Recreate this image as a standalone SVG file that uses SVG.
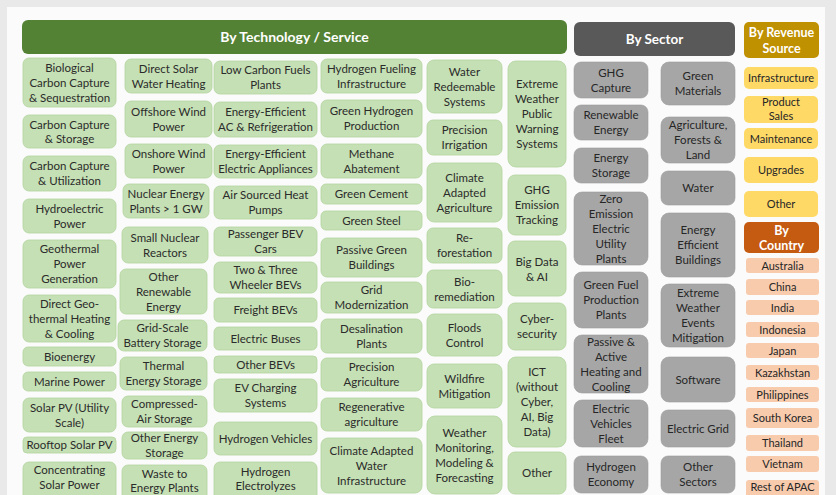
<svg xmlns="http://www.w3.org/2000/svg" width="836" height="495" viewBox="0 0 836 495">
<style>
.g{fill:#c5e0b4;stroke:#b3d49e;stroke-width:0.8}
.s{fill:#a6a6a6;stroke:#9c9c9c;stroke-width:0.6}
.y{fill:#ffd966}
.c{fill:#f8cbad}
text{font-family:Lato,"Liberation Sans",sans-serif;text-anchor:middle}
.t{font-size:11.5px;fill:#2b2b2b}
.st{font-size:11.5px;fill:#262626}
.r{font-size:11px;fill:#262626}
.h{font-weight:bold;fill:#ffffff}
</style>
<rect width="836" height="495" fill="#e9e9e9"/>
<rect x="7" y="7" width="818" height="495" fill="#fbfbfb"/>

<g id="hdr-tech"><rect x="22" y="20" width="545" height="34" rx="6" fill="#548235"/><text class="h" x="294.5" y="42" font-size="14">By Technology / Service</text></g>
<g id="hdr-sector"><rect x="574" y="22" width="161" height="34" rx="6" fill="#595959"/><text class="h" x="654.5" y="44" font-size="13.5">By Sector</text></g>
<g id="hdr-revenue"><rect x="744" y="22" width="75" height="36" rx="5" fill="#bf9000"/><text class="h" font-size="12.5"><tspan x="781.5" y="37">By Revenue</tspan><tspan x="781.5" y="53">Source</tspan></text></g>
<g id="hdr-country"><rect x="744" y="222" width="75" height="31" rx="5" fill="#c55a11"/><text class="h" font-size="12.5"><tspan x="781.5" y="235">By</tspan><tspan x="781.5" y="250">Country</tspan></text></g>

<!-- Column 1 -->
<g id="n-bccs"><rect class="g" x="23" y="58" width="93" height="49" rx="6"/><text class="t"><tspan x="69.5" y="72">Biological</tspan><tspan x="69.5" y="87">Carbon Capture</tspan><tspan x="69.5" y="102">&amp; Sequestration</tspan></text></g>
<g id="n-ccs"><rect class="g" x="23" y="115" width="93" height="33" rx="6"/><text class="t"><tspan x="69.5" y="128.5">Carbon Capture</tspan><tspan x="69.5" y="143">&amp; Storage</tspan></text></g>
<g id="n-ccu"><rect class="g" x="23" y="156" width="93" height="35" rx="6"/><text class="t"><tspan x="69.5" y="170">Carbon Capture</tspan><tspan x="69.5" y="185">&amp; Utilization</tspan></text></g>
<g id="n-hydro"><rect class="g" x="23" y="199" width="93" height="34" rx="6"/><text class="t"><tspan x="69.5" y="212.5">Hydroelectric</tspan><tspan x="69.5" y="227.5">Power</tspan></text></g>
<g id="n-geo"><rect class="g" x="23" y="240" width="93" height="48" rx="6"/><text class="t"><tspan x="69.5" y="253">Geothermal</tspan><tspan x="69.5" y="268">Power</tspan><tspan x="69.5" y="283">Generation</tspan></text></g>
<g id="n-dgeo"><rect class="g" x="23" y="295" width="93" height="47" rx="6"/><text class="t"><tspan x="69.5" y="307.5">Direct Geo-</tspan><tspan x="69.5" y="322.5">thermal Heating</tspan><tspan x="69.5" y="337.5">&amp; Cooling</tspan></text></g>
<g id="n-bio"><rect class="g" x="23" y="347" width="93" height="19" rx="5"/><text class="t" x="69.5" y="360.5">Bioenergy</text></g>
<g id="n-marine"><rect class="g" x="23" y="372" width="93" height="19" rx="5"/><text class="t" x="69.5" y="385.5">Marine Power</text></g>
<g id="n-pvu"><rect class="g" x="23" y="398" width="93" height="34" rx="6"/><text class="t"><tspan x="69.5" y="411.5">Solar PV (Utility</tspan><tspan x="69.5" y="426.5">Scale)</tspan></text></g>
<g id="n-roof"><rect class="g" x="23" y="437" width="93" height="16" rx="4"/><text class="t" x="69.5" y="449">Rooftop Solar PV</text></g>
<g id="n-csp"><rect class="g" x="23" y="462" width="93" height="42" rx="6"/><text class="t"><tspan x="69.5" y="474">Concentrating</tspan><tspan x="69.5" y="489">Solar Power</tspan></text></g>

<!-- Column 2 -->
<g id="n-dswh"><rect class="g" x="125" y="59" width="87" height="34" rx="6"/><text class="t"><tspan x="168.5" y="72.5">Direct Solar</tspan><tspan x="168.5" y="87.5">Water Heating</tspan></text></g>
<g id="n-offw"><rect class="g" x="125" y="101" width="87" height="36" rx="6"/><text class="t"><tspan x="168.5" y="115.5">Offshore Wind</tspan><tspan x="168.5" y="130.5">Power</tspan></text></g>
<g id="n-onw"><rect class="g" x="125" y="144" width="87" height="34" rx="6"/><text class="t"><tspan x="168.5" y="157.5">Onshore Wind</tspan><tspan x="168.5" y="172.5">Power</tspan></text></g>
<g id="n-nuc"><rect class="g" x="123" y="184" width="86" height="34" rx="6"/><text class="t"><tspan x="166" y="197.5">Nuclear Energy</tspan><tspan x="166" y="212.5">Plants &gt; 1 GW</tspan></text></g>
<g id="n-smr"><rect class="g" x="122" y="227" width="86" height="36" rx="6"/><text class="t"><tspan x="165" y="241.5">Small Nuclear</tspan><tspan x="165" y="256.5">Reactors</tspan></text></g>
<g id="n-ore"><rect class="g" x="120" y="269" width="87" height="45" rx="6"/><text class="t"><tspan x="163.5" y="280.5">Other</tspan><tspan x="163.5" y="295.5">Renewable</tspan><tspan x="163.5" y="310.5">Energy</tspan></text></g>
<g id="n-gbs"><rect class="g" x="118" y="320" width="89" height="31" rx="6"/><text class="t"><tspan x="162.5" y="332">Grid-Scale</tspan><tspan x="162.5" y="347">Battery Storage</tspan></text></g>
<g id="n-tes"><rect class="g" x="120" y="357" width="87" height="33" rx="6"/><text class="t"><tspan x="163.5" y="370">Thermal</tspan><tspan x="163.5" y="385">Energy Storage</tspan></text></g>
<g id="n-caes"><rect class="g" x="122" y="396" width="85" height="31" rx="6"/><text class="t"><tspan x="164.5" y="408">Compressed-</tspan><tspan x="164.5" y="423">Air Storage</tspan></text></g>
<g id="n-oes"><rect class="g" x="122" y="432" width="85" height="27" rx="6"/><text class="t"><tspan x="164.5" y="442">Other Energy</tspan><tspan x="164.5" y="457">Storage</tspan></text></g>
<g id="n-wte"><rect class="g" x="122" y="465" width="85" height="40" rx="6"/><text class="t"><tspan x="164.5" y="478">Waste to</tspan><tspan x="164.5" y="492">Energy Plants</tspan></text></g>

<!-- Column 3 -->
<g id="n-lcf"><rect class="g" x="214" y="61" width="103" height="33" rx="6"/><text class="t"><tspan x="265.5" y="74">Low Carbon Fuels</tspan><tspan x="265.5" y="89">Plants</tspan></text></g>
<g id="n-eeac"><rect class="g" x="214" y="102" width="103" height="35" rx="6"/><text class="t"><tspan x="265.5" y="116">Energy-Efficient</tspan><tspan x="265.5" y="131">AC &amp; Refrigeration</tspan></text></g>
<g id="n-eeea"><rect class="g" x="214" y="145" width="103" height="33" rx="6"/><text class="t"><tspan x="265.5" y="158">Energy-Efficient</tspan><tspan x="265.5" y="173">Electric Appliances</tspan></text></g>
<g id="n-ashp"><rect class="g" x="214" y="186" width="103" height="33" rx="6"/><text class="t"><tspan x="265.5" y="199">Air Sourced Heat</tspan><tspan x="265.5" y="214">Pumps</tspan></text></g>
<g id="n-pbev"><rect class="g" x="214" y="227" width="103" height="29" rx="6"/><text class="t"><tspan x="265.5" y="238">Passenger BEV</tspan><tspan x="265.5" y="253">Cars</tspan></text></g>
<g id="n-23bev"><rect class="g" x="214" y="262" width="103" height="31" rx="6"/><text class="t"><tspan x="265.5" y="274">Two &amp; Three</tspan><tspan x="265.5" y="289">Wheeler BEVs</tspan></text></g>
<g id="n-fbev"><rect class="g" x="214" y="298" width="103" height="24" rx="5"/><text class="t" x="265.5" y="314">Freight BEVs</text></g>
<g id="n-ebus"><rect class="g" x="214" y="327" width="103" height="23" rx="5"/><text class="t" x="265.5" y="342.5">Electric Buses</text></g>
<g id="n-obev"><rect class="g" x="214" y="356" width="103" height="17" rx="4"/><text class="t" x="265.5" y="368.5">Other BEVs</text></g>
<g id="n-evcs"><rect class="g" x="214" y="379" width="103" height="33" rx="6"/><text class="t"><tspan x="265.5" y="392">EV Charging</tspan><tspan x="265.5" y="407">Systems</tspan></text></g>
<g id="n-h2v"><rect class="g" x="214" y="422" width="103" height="33" rx="6"/><text class="t" x="265.5" y="442.5">Hydrogen Vehicles</text></g>
<g id="n-h2e"><rect class="g" x="214" y="462" width="103" height="42" rx="6"/><text class="t"><tspan x="265.5" y="476">Hydrogen</tspan><tspan x="265.5" y="490">Electrolyzes</tspan></text></g>

<!-- Column 4 -->
<g id="n-h2fi"><rect class="g" x="321" y="59" width="101" height="34" rx="6"/><text class="t"><tspan x="371.5" y="72.5">Hydrogen Fueling</tspan><tspan x="371.5" y="87.5">Infrastructure</tspan></text></g>
<g id="n-gh2"><rect class="g" x="321" y="100" width="101" height="37" rx="6"/><text class="t"><tspan x="371.5" y="115">Green Hydrogen</tspan><tspan x="371.5" y="130">Production</tspan></text></g>
<g id="n-meth"><rect class="g" x="321" y="144" width="101" height="34" rx="6"/><text class="t"><tspan x="371.5" y="157.5">Methane</tspan><tspan x="371.5" y="172.5">Abatement</tspan></text></g>
<g id="n-gcem"><rect class="g" x="321" y="184" width="101" height="20" rx="5"/><text class="t" x="371.5" y="198">Green Cement</text></g>
<g id="n-gst"><rect class="g" x="321" y="211" width="101" height="19" rx="5"/><text class="t" x="371.5" y="224.5">Green Steel</text></g>
<g id="n-pgb"><rect class="g" x="321" y="238" width="101" height="39" rx="6"/><text class="t"><tspan x="371.5" y="254">Passive Green</tspan><tspan x="371.5" y="269">Buildings</tspan></text></g>
<g id="n-gmod"><rect class="g" x="321" y="282" width="101" height="31" rx="6"/><text class="t"><tspan x="371.5" y="294">Grid</tspan><tspan x="371.5" y="309">Modernization</tspan></text></g>
<g id="n-desal"><rect class="g" x="321" y="319" width="101" height="34" rx="6"/><text class="t"><tspan x="371.5" y="332.5">Desalination</tspan><tspan x="371.5" y="347.5">Plants</tspan></text></g>
<g id="n-pagr"><rect class="g" x="321" y="358" width="101" height="33" rx="6"/><text class="t"><tspan x="371.5" y="371">Precision</tspan><tspan x="371.5" y="386">Agriculture</tspan></text></g>
<g id="n-ragr"><rect class="g" x="321" y="398" width="101" height="33" rx="6"/><text class="t"><tspan x="371.5" y="411">Regenerative</tspan><tspan x="371.5" y="426">agriculture</tspan></text></g>
<g id="n-cawi"><rect class="g" x="321" y="438" width="101" height="55" rx="7"/><text class="t"><tspan x="371.5" y="455">Climate Adapted</tspan><tspan x="371.5" y="470">Water</tspan><tspan x="371.5" y="485">Infrastructure</tspan></text></g>

<!-- Column 5 -->
<g id="n-wrs"><rect class="g" x="427" y="60" width="75" height="53" rx="7"/><text class="t"><tspan x="464.5" y="75.5">Water</tspan><tspan x="464.5" y="90.5">Redeemable</tspan><tspan x="464.5" y="105.5">Systems</tspan></text></g>
<g id="n-pirr"><rect class="g" x="427" y="120" width="75" height="35" rx="6"/><text class="t"><tspan x="464.5" y="134">Precision</tspan><tspan x="464.5" y="149">Irrigation</tspan></text></g>
<g id="n-caa"><rect class="g" x="427" y="163" width="75" height="59" rx="7"/><text class="t"><tspan x="464.5" y="181.5">Climate</tspan><tspan x="464.5" y="196.5">Adapted</tspan><tspan x="464.5" y="211.5">Agriculture</tspan></text></g>
<g id="n-refor"><rect class="g" x="427" y="228" width="75" height="35" rx="6"/><text class="t"><tspan x="464.5" y="242">Re-</tspan><tspan x="464.5" y="257">forestation</tspan></text></g>
<g id="n-biorem"><rect class="g" x="427" y="270" width="75" height="38" rx="6"/><text class="t"><tspan x="464.5" y="285.5">Bio-</tspan><tspan x="464.5" y="300.5">remediation</tspan></text></g>
<g id="n-flood"><rect class="g" x="427" y="314" width="75" height="42" rx="7"/><text class="t"><tspan x="464.5" y="331.5">Floods</tspan><tspan x="464.5" y="346.5">Control</tspan></text></g>
<g id="n-wild"><rect class="g" x="427" y="364" width="75" height="44" rx="7"/><text class="t"><tspan x="464.5" y="382.5">Wildfire</tspan><tspan x="464.5" y="397.5">Mitigation</tspan></text></g>
<g id="n-wmmf"><rect class="g" x="427" y="416" width="75" height="78" rx="8"/><text class="t"><tspan x="464.5" y="437">Weather</tspan><tspan x="464.5" y="452">Monitoring,</tspan><tspan x="464.5" y="467">Modeling &amp;</tspan><tspan x="464.5" y="482">Forecasting</tspan></text></g>

<!-- Column 6 -->
<g id="n-ewpw"><rect class="g" x="508" y="61" width="58" height="106" rx="8"/><text class="t"><tspan x="537" y="88">Extreme</tspan><tspan x="537" y="103">Weather</tspan><tspan x="537" y="118">Public</tspan><tspan x="537" y="133">Warning</tspan><tspan x="537" y="148">Systems</tspan></text></g>
<g id="n-ghgt"><rect class="g" x="508" y="175" width="58" height="60" rx="7"/><text class="t"><tspan x="537" y="194">GHG</tspan><tspan x="537" y="209">Emission</tspan><tspan x="537" y="224">Tracking</tspan></text></g>
<g id="n-bdai"><rect class="g" x="508" y="241" width="58" height="55" rx="7"/><text class="t"><tspan x="537" y="265.5">Big Data</tspan><tspan x="537" y="280.5">&amp; AI</tspan></text></g>
<g id="n-cyber"><rect class="g" x="508" y="303" width="58" height="47" rx="7"/><text class="t"><tspan x="537" y="323">Cyber-</tspan><tspan x="537" y="338">security</tspan></text></g>
<g id="n-ict"><rect class="g" x="508" y="357" width="58" height="90" rx="8"/><text class="t"><tspan x="537" y="376">ICT</tspan><tspan x="537" y="391">(without</tspan><tspan x="537" y="406">Cyber,</tspan><tspan x="537" y="421">AI, Big</tspan><tspan x="537" y="436">Data)</tspan></text></g>
<g id="n-other"><rect class="g" x="508" y="452" width="58" height="42" rx="7"/><text class="t" x="537" y="477">Other</text></g>

<!-- Sector column 1 -->
<g id="s-ghg"><rect class="s" x="574" y="62" width="74" height="36" rx="7"/><text class="st"><tspan x="611" y="76.5">GHG</tspan><tspan x="611" y="91.5">Capture</tspan></text></g>
<g id="s-ren"><rect class="s" x="574" y="105" width="74" height="35" rx="7"/><text class="st"><tspan x="611" y="119">Renewable</tspan><tspan x="611" y="134">Energy</tspan></text></g>
<g id="s-stor"><rect class="s" x="574" y="148" width="74" height="35" rx="7"/><text class="st"><tspan x="611" y="162">Energy</tspan><tspan x="611" y="177">Storage</tspan></text></g>
<g id="s-zeeu"><rect class="s" x="574" y="192" width="74" height="73" rx="8"/><text class="st"><tspan x="611" y="203">Zero</tspan><tspan x="611" y="218">Emission</tspan><tspan x="611" y="233">Electric</tspan><tspan x="611" y="248">Utility</tspan><tspan x="611" y="263">Plants</tspan></text></g>
<g id="s-gfpp"><rect class="s" x="574" y="272" width="74" height="56" rx="8"/><text class="st"><tspan x="611" y="289">Green Fuel</tspan><tspan x="611" y="304">Production</tspan><tspan x="611" y="319">Plants</tspan></text></g>
<g id="s-pahc"><rect class="s" x="574" y="335" width="74" height="58" rx="8"/><text class="st"><tspan x="611" y="346">Passive &amp;</tspan><tspan x="611" y="361">Active</tspan><tspan x="611" y="376">Heating and</tspan><tspan x="611" y="391">Cooling</tspan></text></g>
<g id="s-evf"><rect class="s" x="574" y="400" width="74" height="47" rx="8"/><text class="st"><tspan x="611" y="412.5">Electric</tspan><tspan x="611" y="427.5">Vehicles</tspan><tspan x="611" y="442.5">Fleet</tspan></text></g>
<g id="s-h2e"><rect class="s" x="574" y="456" width="74" height="37" rx="7"/><text class="st"><tspan x="611" y="471">Hydrogen</tspan><tspan x="611" y="486">Economy</tspan></text></g>

<!-- Sector column 2 -->
<g id="s-gmat"><rect class="s" x="661" y="62" width="74" height="43" rx="8"/><text class="st"><tspan x="698" y="80">Green</tspan><tspan x="698" y="95">Materials</tspan></text></g>
<g id="s-afl"><rect class="s" x="661" y="117" width="74" height="46" rx="8"/><text class="st"><tspan x="698" y="129">Agriculture,</tspan><tspan x="698" y="144">Forests &amp;</tspan><tspan x="698" y="159">Land</tspan></text></g>
<g id="s-water"><rect class="s" x="661" y="171" width="74" height="34" rx="7"/><text class="st" x="698" y="192">Water</text></g>
<g id="s-eeb"><rect class="s" x="661" y="213" width="74" height="64" rx="8"/><text class="st"><tspan x="698" y="234">Energy</tspan><tspan x="698" y="249">Efficient</tspan><tspan x="698" y="264">Buildings</tspan></text></g>
<g id="s-ewem"><rect class="s" x="661" y="284" width="74" height="63" rx="8"/><text class="st"><tspan x="698" y="297">Extreme</tspan><tspan x="698" y="312">Weather</tspan><tspan x="698" y="327">Events</tspan><tspan x="698" y="342">Mitigation</tspan></text></g>
<g id="s-soft"><rect class="s" x="661" y="357" width="74" height="45" rx="8"/><text class="st" x="698" y="383.5">Software</text></g>
<g id="s-egrid"><rect class="s" x="661" y="410" width="74" height="37" rx="7"/><text class="st" x="698" y="432.5">Electric Grid</text></g>
<g id="s-oth"><rect class="s" x="661" y="456" width="74" height="37" rx="7"/><text class="st"><tspan x="698" y="471">Other</tspan><tspan x="698" y="486">Sectors</tspan></text></g>

<!-- Revenue -->
<g id="r-infra"><rect class="y" x="744" y="67" width="74" height="22" rx="5"/><text class="r" x="781" y="82">Infrastructure</text></g>
<g id="r-prod"><rect class="y" x="744" y="96" width="74" height="27" rx="5"/><text class="r"><tspan x="781" y="105.5">Product</tspan><tspan x="781" y="120">Sales</tspan></text></g>
<g id="r-maint"><rect class="y" x="744" y="128" width="74" height="21" rx="5"/><text class="r" x="781" y="142.5">Maintenance</text></g>
<g id="r-upg"><rect class="y" x="744" y="157" width="74" height="26" rx="5"/><text class="r" x="781" y="174">Upgrades</text></g>
<g id="r-oth"><rect class="y" x="744" y="191" width="74" height="26" rx="5"/><text class="r" x="781" y="208">Other</text></g>

<!-- Countries -->
<g id="c-aus"><rect class="c" x="746" y="258" width="73" height="15" rx="3"/><text class="r" x="782.5" y="269.5">Australia</text></g>
<g id="c-chn"><rect class="c" x="746" y="279" width="73" height="16" rx="3"/><text class="r" x="782.5" y="291">China</text></g>
<g id="c-ind"><rect class="c" x="746" y="300" width="73" height="15" rx="3"/><text class="r" x="782.5" y="311.5">India</text></g>
<g id="c-idn"><rect class="c" x="746" y="322" width="73" height="15" rx="3"/><text class="r" x="782.5" y="333.5">Indonesia</text></g>
<g id="c-jpn"><rect class="c" x="746" y="343" width="73" height="15" rx="3"/><text class="r" x="782.5" y="354.5">Japan</text></g>
<g id="c-kaz"><rect class="c" x="746" y="365" width="73" height="15" rx="3"/><text class="r" x="782.5" y="376.5">Kazakhstan</text></g>
<g id="c-phl"><rect class="c" x="746" y="387" width="73" height="15" rx="3"/><text class="r" x="782.5" y="398.5">Philippines</text></g>
<g id="c-kor"><rect class="c" x="746" y="408" width="73" height="20" rx="3"/><text class="r" x="782.5" y="422">South Korea</text></g>
<g id="c-tha"><rect class="c" x="746" y="435" width="73" height="16" rx="3"/><text class="r" x="782.5" y="447">Thailand</text></g>
<g id="c-vnm"><rect class="c" x="746" y="456" width="73" height="16" rx="3"/><text class="r" x="782.5" y="468">Vietnam</text></g>
<g id="c-rest"><rect class="c" x="746" y="480" width="73" height="22" rx="3"/><text class="r" x="782.5" y="490.5">Rest of APAC</text></g>

<g id="connectors"/>
</svg>
